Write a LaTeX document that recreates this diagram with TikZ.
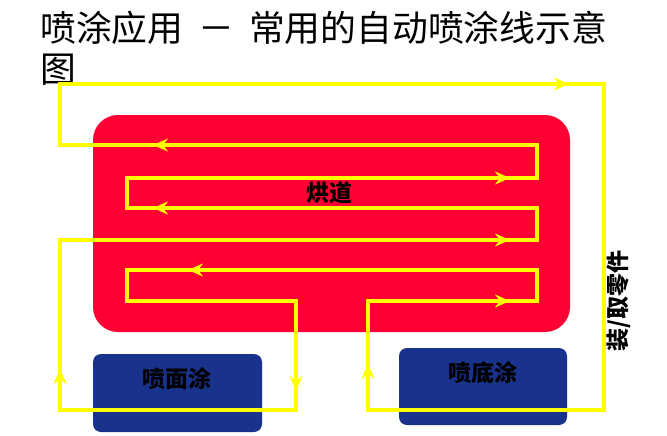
\documentclass[tikz,border=0pt]{standalone}
\usepackage{fontspec}
\setmainfont{Noto Sans CJK SC}
\usetikzlibrary{arrows.meta, positioning, calc}
\definecolor{ovenred}{RGB}{255,0,51}
\definecolor{boothblue}{RGB}{25,50,140}
\definecolor{trackyellow}{RGB}{255,255,0}

\begin{document}
\begin{tikzpicture}[x=1pt, y=-1pt]
	\tikzset{
		headline/.style = {font={\fontsize{35.8}{40}\selectfont}, anchor=base west, inner sep=0pt},
		lbl/.style = {font={\fontsize{23}{26}\selectfont\bfseries}, inner sep=0pt},
		oven/.style = {fill=ovenred, minimum width=477pt, minimum height=217pt, rounded corners=25pt, inner sep=0pt},
		booth/.style = {fill=boothblue, minimum width=169pt, minimum height=78pt, rounded corners=8pt, inner sep=0pt},
		track/.style = {draw=trackyellow, line width=4.2pt, miter limit=10},
		tipmark/.style = {-{Stealth[length=15pt, width=13pt, inset=5pt]}, draw=trackyellow, fill=trackyellow, line width=4.2pt},
	}
	\useasboundingbox (0,0) rectangle (667,436);

	\node[headline] (head1) at (40,42) {喷涂应用\hspace{15pt}－\hspace{15pt}常用的自动喷涂线示意};
	\node[headline] (head2) at (40,82) {图};

	\node[oven] (oven) at (331.5,223.5) {};
	\node[booth] (face) at (177.5,393) {};
	\node[booth, minimum width=168pt, minimum height=77pt] (base) at (483,386.5) {};

	% conveyor loop
	\foreach \n/\x/\y in {1/368/410, 2/368/301, 3/537/301, 4/537/270, 5/127/270, 6/127/301, 7/296/301, 8/296/410, 9/60/410, 10/60/240,
		11/537/240, 12/537/208, 13/127/208, 14/127/178, 15/537/178, 16/537/145, 17/60/145, 18/60/84, 19/604/84, 20/604/410}
		{
			\coordinate (t\n) at (\x,\y);
		}
	\draw[track] (t1) \foreach \n in {2,...,20}{ -- (t\n)} -- cycle;

	\foreach \x/\y/\dx/\dy in {569/84/1/0, 153/145/-1/0, 510/178/1/0, 153/208/-1/0, 510/240/1/0, 188/270/-1/0, 510/301/1/0,
		60/369/0/-1, 296/391/0/1, 368/364/0/-1}
		{
			\draw[tipmark] ({\x-16*\dx},{\y-16*\dy}) -- (\x,\y);
		}

	\node[lbl] (ovenlbl) at (329,193) {烘道};
	\node[lbl] (facelbl) at (177,379) {喷面涂};
	\node[lbl] (baselbl) at (483,373) {喷底涂};
	\node[lbl, rotate=90] (loadlbl) at (619,301) {装/取零件};
\end{tikzpicture}
\end{document}
